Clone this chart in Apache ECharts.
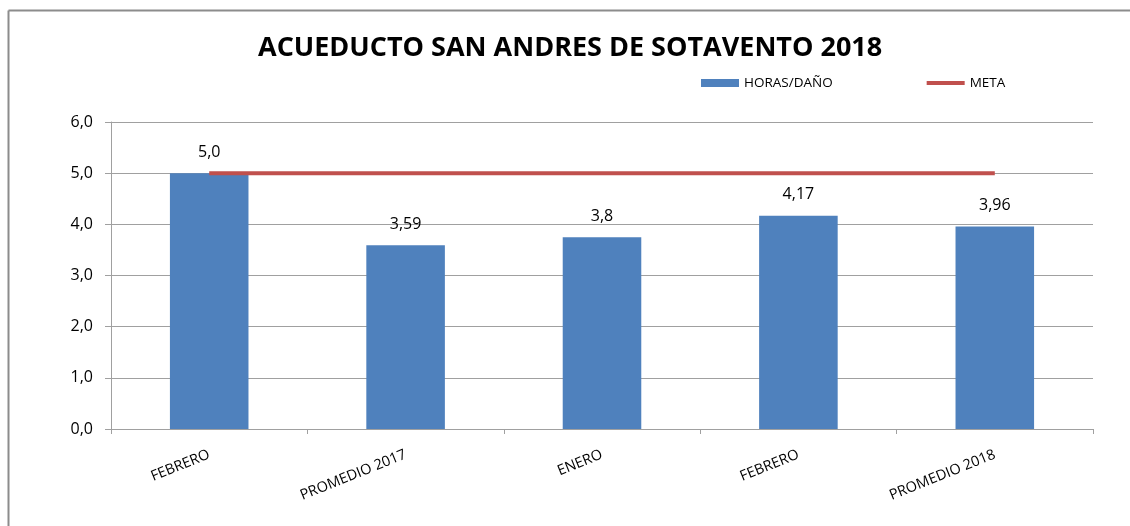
<!DOCTYPE html>
<html>
<head>
<meta charset="utf-8">
<script src="https://cdn.jsdelivr.net/npm/echarts@6/dist/echarts.min.js"></script>
<style>html,body{margin:0;padding:0;background:#fff;}#c{width:1130px;height:526px;}</style>
</head>
<body>
<div id="c"></div>
<script>
var titleText = 'ACUEDUCTO SAN ANDRES DE SOTAVENTO 2018';
var categories = ['FEBRERO', 'PROMEDIO 2017', 'ENERO', 'FEBRERO', 'PROMEDIO 2018'];
var horasDano = [5.0, 3.59, 3.75, 4.17, 3.96];
var horasDanoLabels = ['5,0', '3,59', '3,8', '4,17', '3,96'];
var meta = [5.0, 5.0, 5.0, 5.0, 5.0];
var yTicks = { min: 0, max: 6, interval: 1 };

var FONT = '"Open Sans", "Noto Sans", sans-serif';
var chart = echarts.init(document.getElementById('c'), null, { renderer: 'canvas' });
chart.setOption({
  backgroundColor: '#fff',
  animation: false,
  title: {
    text: titleText, left: 253, top: 30,
    textStyle: { fontFamily: FONT, fontSize: 27, fontWeight: 'bold', color: '#000' }
  },
  legend: {
    top: 71, left: 696, itemGap: 94, itemWidth: 38, itemHeight: 8,
    textStyle: { fontFamily: FONT, fontSize: 13.5, color: '#000' },
    data: [
      { name: 'HORAS/DAÑO', icon: 'rect' },
      { name: 'META', icon: 'path://M0,0 L10,0 L10,1 L0,1 Z' }
    ]
  },
  grid: { left: 111, right: 37, top: 122, bottom: 97, containLabel: false },
  xAxis: {
    type: 'category', data: categories,
    axisLine: { lineStyle: { color: '#a0a0a0', width: 1 } },
    axisTick: { show: true, length: 5, alignWithLabel: false, lineStyle: { color: '#a0a0a0' } },
    axisLabel: { rotate: 22, margin: 25, fontFamily: FONT, fontSize: 14.5, color: '#000', interval: 0 }
  },
  yAxis: {
    type: 'value', min: yTicks.min, max: yTicks.max, interval: yTicks.interval,
    axisLine: { show: true, lineStyle: { color: '#a0a0a0' } },
    axisTick: { show: true, length: 6, lineStyle: { color: '#a0a0a0' } },
    splitLine: { lineStyle: { color: '#a0a0a0', width: 1 } },
    axisLabel: {
      margin: 18, fontFamily: FONT, fontSize: 16, color: '#000',
      formatter: function (v) { return v.toFixed(1).replace('.', ','); }
    }
  },
  series: [
    {
      name: 'HORAS/DAÑO', type: 'bar', data: horasDano, barWidth: '40%',
      itemStyle: { color: '#4F81BD' },
      label: {
        show: true, position: 'top', distance: 13,
        fontFamily: FONT, fontSize: 16, color: '#000',
        formatter: function (p) { return horasDanoLabels[p.dataIndex]; }
      },
      z: 2
    },
    {
      name: 'META', type: 'line', data: meta, symbol: 'none',
      lineStyle: { color: '#C0504D', width: 4 },
      itemStyle: { color: '#C0504D' },
      z: 3
    }
  ],
  graphic: [
    { type: 'line', shape: { x1: 8.5, y1: 10.5, x2: 1130, y2: 10.5 }, style: { stroke: '#8c8c8c', lineWidth: 2 } },
    { type: 'line', shape: { x1: 8.5, y1: 10.5, x2: 8.5, y2: 526 }, style: { stroke: '#8c8c8c', lineWidth: 2 } }
  ]
});
</script>
</body>
</html>
